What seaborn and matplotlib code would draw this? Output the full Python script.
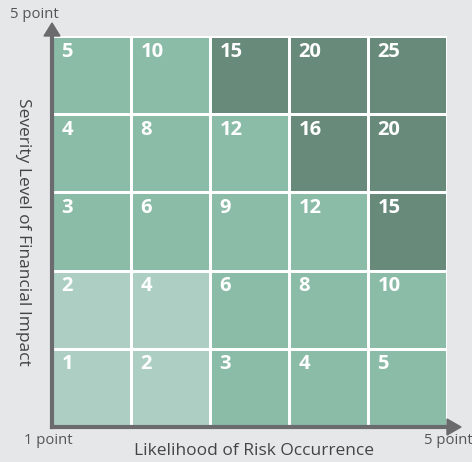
import numpy as np
import pandas as pd
import matplotlib
matplotlib.use("Agg")
import matplotlib.pyplot as plt
from matplotlib.colors import ListedColormap
import seaborn as sns

sns.set_style("white")
plt.rcParams['font.family'] = ['Open Sans', 'DejaVu Sans']

# Data
likelihood = [1, 2, 3, 4, 5]
severity = [5, 4, 3, 2, 1]          # rows from top to bottom
scores = [
    [5, 10, 15, 20, 25],
    [4, 8, 12, 16, 20],
    [3, 6, 9, 12, 15],
    [2, 4, 6, 8, 10],
    [1, 2, 3, 4, 5],
]
levels = [
    [1, 1, 2, 2, 2],
    [1, 1, 1, 2, 2],
    [1, 1, 1, 1, 2],
    [0, 0, 1, 1, 1],
    [0, 0, 1, 1, 1],
]
level_colors = ["#adcfc3", "#8bbca8", "#678a7b"]
x_label = "Likelihood of Risk Occurrence"
y_label = "Severity Level of Financial Impact"
low_label = "1 point"
high_label = "5 point"

bg = "#e6e7e9"
axis_col = "#6b6b6d"
text_col = "#555555"

W, H = 472, 462
fig = plt.figure(figsize=(W / 100, H / 100), dpi=100, facecolor=bg)
L, R, T, B = 52, 447, 36, 427
ax = fig.add_axes([L / W, 1 - B / H, (R - L) / W, (B - T) / H])
ax.set_facecolor(bg)

lv = pd.DataFrame(levels, index=severity, columns=likelihood)
sns.heatmap(lv, ax=ax, cmap=ListedColormap(level_colors), vmin=-0.5, vmax=2.5,
            cbar=False, linewidths=2, linecolor="white", square=False)

for i, row in enumerate(scores):
    for j, v in enumerate(row):
        ax.text(j + 0.12, i + 0.2, str(v), color="white", fontsize=14.5,
                fontweight="bold", ha="left", va="center")

ax.set_xticks([])
ax.set_yticks([])
ax.set_xlabel("")
ax.set_ylabel("")
for s in ["top", "right"]:
    ax.spines[s].set_visible(False)
for s in ["left", "bottom"]:
    ax.spines[s].set_visible(True)
    ax.spines[s].set_color(axis_col)
    ax.spines[s].set_linewidth(3)
    ax.spines[s].set_zorder(5)

# arrows
def fx(px):
    return px / W

def fy(py):
    return 1 - py / H

fig.patches.append(plt.Polygon([[fx(L - 8), fy(T)], [fx(L + 8), fy(T)], [fx(L), fy(T - 13)]],
                               closed=True, transform=fig.transFigure, color=axis_col, zorder=6))
fig.patches.append(plt.Polygon([[fx(R), fy(B - 8)], [fx(R), fy(B + 8)], [fx(R + 14), fy(B)]],
                               closed=True, transform=fig.transFigure, color=axis_col, zorder=6))

fig.text(fx(10), fy(14), high_label, fontsize=10.7, color=text_col, ha="left", va="center")
fig.text(fx(24), fy(441), low_label, fontsize=10.7, color=text_col, ha="left", va="center")
fig.text(fx(473), fy(441), high_label, fontsize=10.7, color=text_col, ha="right", va="center")
fig.text(fx(254), fy(451), x_label, fontsize=12.5, color="#444444", ha="center", va="center")
fig.text(fx(23), fy(232), y_label, fontsize=12.5, color="#444444", ha="center", va="center",
         rotation=-90)

fig.savefig("out.png", dpi=100, facecolor=bg)
